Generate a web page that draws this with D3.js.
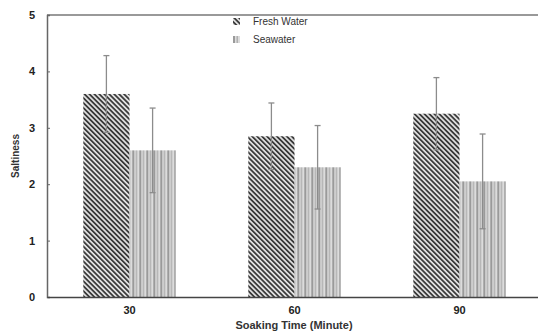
<!DOCTYPE html>
<html>
<head>
<meta charset="utf-8">
<script src="https://cdn.jsdelivr.net/npm/d3@7"></script>
<style>
  body { margin: 0; background: #fff; }
  svg { font-family: "Liberation Sans", Arial, sans-serif; }
</style>
</head>
<body>
<svg id="chart" width="538" height="334"></svg>
<script>
// data
const times = ["30", "60", "90"]
const seriesNames = ["Fresh Water", "Seawater"]
const freshMean = [3.6, 2.85, 3.25]
const freshSd = [0.68, 0.59, 0.64]
const seaMean = [2.6, 2.3, 2.05]
const seaSd = [0.75, 0.74, 0.84]
const yTicks = [0, 1, 2, 3, 4, 5]

const svg = d3.select('#chart')
const margin = {left: 47, top: 15, bottom: 37}
const width = 542 - margin.left
const height = 334 - margin.top - margin.bottom

// hatch patterns
const defs = svg.append('defs')
const diag = defs.append('pattern').attr('id', 'diag')
    .attr('patternUnits', 'userSpaceOnUse').attr('width', 3.5).attr('height', 3.5)
    .attr('patternTransform', 'rotate(-45)')
diag.append('rect').attr('width', 3.5).attr('height', 3.5).attr('fill', '#e4e4e4')
diag.append('rect').attr('width', 1.8).attr('height', 3.5).attr('fill', '#3a3a3a')

const vert = defs.append('pattern').attr('id', 'vert')
    .attr('patternUnits', 'userSpaceOnUse').attr('width', 7).attr('height', 7)
vert.append('rect').attr('width', 7).attr('height', 7).attr('fill', '#dcdcdc')
vert.append('rect').attr('x', 0).attr('width', 2).attr('height', 7).attr('fill', '#9a9a9a')
vert.append('rect').attr('x', 3.5).attr('width', 1.5).attr('height', 7).attr('fill', '#b0b0b0')

const g = svg.append('g').attr('transform', `translate(${margin.left},${margin.top})`)

const x = d3.scaleBand().domain(times).range([0, width]).paddingInner(0.44).paddingOuter(0.22)
const xs = d3.scaleBand().domain(seriesNames).range([0, x.bandwidth()])
const y = d3.scaleLinear().domain([0, 5]).range([height, 0])

const rows = times.map((t, i) => [
  {t, s: seriesNames[0], v: freshMean[i], sd: freshSd[i], fill: 'url(#diag)'},
  {t, s: seriesNames[1], v: seaMean[i], sd: seaSd[i], fill: 'url(#vert)'}
])

const grp = g.selectAll('.grp').data(rows).enter().append('g')
    .attr('transform', d => `translate(${x(d[0].t)},0)`)

grp.selectAll('rect').data(d => d).enter().append('rect')
    .attr('x', d => xs(d.s))
    .attr('y', d => y(d.v))
    .attr('width', xs.bandwidth())
    .attr('height', d => height - y(d.v))
    .attr('fill', d => d.fill)

// error bars
const eb = grp.selectAll('.eb').data(d => d).enter().append('g')
    .attr('stroke', '#8c8c8c').attr('stroke-width', 1.3)
eb.append('line')
    .attr('x1', d => xs(d.s) + xs.bandwidth() / 2)
    .attr('x2', d => xs(d.s) + xs.bandwidth() / 2)
    .attr('y1', d => y(d.v - d.sd))
    .attr('y2', d => y(d.v + d.sd))
eb.append('line')
    .attr('x1', d => xs(d.s) + xs.bandwidth() / 2 - 3)
    .attr('x2', d => xs(d.s) + xs.bandwidth() / 2 + 3)
    .attr('y1', d => y(d.v + d.sd))
    .attr('y2', d => y(d.v + d.sd))
eb.append('line')
    .attr('x1', d => xs(d.s) + xs.bandwidth() / 2 - 3)
    .attr('x2', d => xs(d.s) + xs.bandwidth() / 2 + 3)
    .attr('y1', d => y(d.v - d.sd))
    .attr('y2', d => y(d.v - d.sd))

// frame: top line
g.append('line').attr('x1', 0).attr('x2', width).attr('y1', 0).attr('y2', 0)
    .attr('stroke', '#777').attr('stroke-width', 1.5)

// axes
const yAxis = d3.axisLeft(y).tickValues(yTicks).tickFormat(d3.format('d')).tickSize(-3).tickPadding(12)
const ya = g.append('g').call(yAxis)
ya.select('.domain').attr('stroke', '#666').attr('stroke-width', 1.5)
ya.selectAll('.tick line').attr('stroke', '#666')
ya.selectAll('text').attr('font-size', 11).attr('font-weight', 'bold').attr('fill', '#222')

const xAxis = d3.axisBottom(x).tickSize(0).tickPadding(9)
const xa = g.append('g').attr('transform', `translate(0,${height})`).call(xAxis)
xa.select('.domain').attr('stroke', '#444').attr('stroke-width', 1.5)
xa.selectAll('text').attr('font-size', 11).attr('font-weight', 'bold').attr('fill', '#222')

g.append('text').attr('transform', `translate(-28,${height / 2}) rotate(-90)`)
    .attr('text-anchor', 'middle').attr('font-size', 10).attr('font-weight', 'bold')
    .attr('fill', '#333').text('Saltiness')

svg.append('text').attr('x', 294).attr('y', 329).attr('text-anchor', 'middle')
    .attr('font-size', 11).attr('font-weight', 'bold').attr('fill', '#333')
    .text('Soaking Time (Minute)')

// legend
const leg = svg.append('g').attr('transform', 'translate(233,18)')
const li = leg.selectAll('g').data(seriesNames).enter().append('g')
    .attr('transform', (d, i) => `translate(0,${i * 18})`)
li.append('rect').attr('width', 7).attr('height', 7)
    .attr('fill', (d, i) => i ? 'url(#vert)' : 'url(#diag)')
li.append('text').attr('x', 20).attr('y', 7).attr('font-size', 10)
    .attr('fill', '#333').text(d => d)
</script>
</body>
</html>
